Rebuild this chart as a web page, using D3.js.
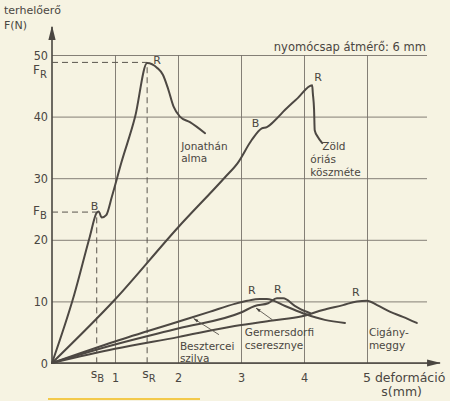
<!DOCTYPE html>
<html>
<head>
<meta charset="utf-8">
<script src="https://cdn.jsdelivr.net/npm/d3@7"></script>
<style>
  body { margin: 0; background: #f6f3e2; }
  svg { display: block; }
  text { font-family: "DejaVu Sans", sans-serif; fill: #4a4641; }
</style>
</head>
<body>
<div id="chart"></div>
<script>
// s (mm), F (N) pairs
var jonathan = [[0,0],[0.35,11],[0.6,20.5],[0.71,24.4],[0.74,24.6],[0.79,23.6],[0.86,24],[0.95,27],[1.1,32.5],[1.32,40],[1.51,48.7],[1.67,47.9],[1.76,46.8],[1.84,44.6],[1.93,41.6],[2.03,40],[2.19,39.1],[2.43,37.3]];
var koszmete = [[0,0],[1,10.3],[2,22],[2.75,30.2],[2.95,32.5],[3.17,36.2],[3.33,38.1],[3.41,38.3],[3.54,39.4],[3.7,41.1],[3.9,43],[4.13,45.1],[4.14,43.8],[4.16,41.1],[4.17,37.8],[4.22,36.7],[4.29,35.7]];
var szilva = [[0,0],[1,3.5],[2,6.7],[2.5,8.3],[2.9,9.6],[3.1,10.1],[3.3,10.4],[3.41,10.4],[3.7,9.25],[4.02,7.95],[4.33,7],[4.65,6.5]];
var cseresznye = [[0,0],[1,3],[2,5.6],[3,8.2],[3.22,9.25],[3.43,9.7],[3.57,10.5],[3.67,10.5],[3.86,9.25],[4.02,8.4],[4.1,8.1]];
var meggy = [[0,0],[1,2.3],[2,4.2],[2.9,6],[3.5,6.9],[3.97,7.6],[4.3,8.6],[4.62,9.4],[4.84,10],[5,10.1],[5.16,9.4],[5.37,8.3],[5.57,7.5],[5.79,6.5]];

var xTicks = [1, 2, 3, 4];
var yTicks = [0, 10, 20, 30, 40, 50];
var sB = 0.71, sR = 1.51, FB = 24.5, FR = 48.8;

var W = 450, H = 401;
var svg = d3.select("#chart").append("svg").attr("width", W).attr("height", H);
var x = d3.scaleLinear().domain([0, 6]).range([52, 430]);
var y = d3.scaleLinear().domain([0, 50]).range([363, 55]);
var ink = "#4a4641";

// grid
svg.append("g").attr("transform", "translate(" + x(0) + ",0)")
    .call(d3.axisLeft(y).tickValues(yTicks).tickSize(-(x(6) - 3 - x(0))).tickPadding(4))
    .call(function (g) {
        g.select(".domain").remove();
        g.selectAll("line").attr("stroke", "#77726a").attr("stroke-width", 0.9);
        g.selectAll("text").attr("font-size", 12.5).attr("fill", ink).style("font-family", "DejaVu Sans Condensed");
    });
svg.append("g").attr("transform", "translate(0," + y(0) + ")")
    .call(d3.axisTop(x).tickValues([1, 2, 3, 4, 5]).tickSize(y(0) - y(50)).tickFormat(""))
    .call(function (g) {
        g.select(".domain").remove();
        g.selectAll("line").attr("stroke", "#77726a").attr("stroke-width", 0.9);
    });
svg.append("g").attr("transform", "translate(0," + y(0) + ")")
    .call(d3.axisBottom(x).tickValues(xTicks).tickFormat(d3.format("d")).tickSize(0).tickPadding(10))
    .call(function (g) {
        g.select(".domain").remove();
        g.selectAll("text").attr("font-size", 12.5).attr("fill", ink).style("font-family", "DejaVu Sans Condensed");
    });

// axes with arrows
svg.append("defs").append("marker").attr("id", "arr").attr("viewBox", "0 0 10 10")
    .attr("refX", 9).attr("refY", 5).attr("markerWidth", 9).attr("markerHeight", 9).attr("orient", "auto")
    .append("path").attr("d", "M0,2.5L10,5L0,7.5Z").attr("fill", ink);
svg.append("defs").append("marker").attr("id", "sarr").attr("viewBox", "0 0 10 10")
    .attr("refX", 9).attr("refY", 5).attr("markerWidth", 6).attr("markerHeight", 6).attr("orient", "auto")
    .append("path").attr("d", "M0,2L10,5L0,8Z").attr("fill", ink);
svg.append("line").attr("x1", x(0)).attr("y1", y(0)).attr("x2", x(0)).attr("y2", 27)
    .attr("stroke", ink).attr("stroke-width", 1.6).attr("marker-end", "url(#arr)");
svg.append("line").attr("x1", x(0)).attr("y1", y(0)).attr("x2", 440).attr("y2", y(0))
    .attr("stroke", ink).attr("stroke-width", 1.6).attr("marker-end", "url(#arr)");

// dashed guides
var dash = svg.append("g").attr("stroke", "#5a554e").attr("stroke-width", 1).attr("stroke-dasharray", "6,4").attr("fill", "none");
dash.append("path").attr("d", "M" + x(0) + "," + y(FR) + "H" + x(sR) + "V" + y(0));
dash.append("path").attr("d", "M" + x(0) + "," + y(FB) + "H" + x(sB) + "V" + y(0));

// curves
var line = d3.line().x(function (d) { return x(d[0]); }).y(function (d) { return y(d[1]); }).curve(d3.curveMonotoneX);
[jonathan, koszmete, szilva, cseresznye, meggy].forEach(function (s) {
    svg.append("path").datum(s).attr("d", line).attr("fill", "none")
        .attr("stroke", "#4d4843").attr("stroke-width", 2).attr("stroke-linejoin", "round").attr("stroke-linecap", "round");
});

function label(t, xv, yv, opts) {
    opts = opts || {};
    return svg.append("text").attr("x", x(xv) + (opts.dx || 0)).attr("y", y(yv) + (opts.dy || 0))
        .attr("font-size", opts.size || 11).attr("text-anchor", opts.anchor || "start").text(t);
}
function sub(main, s, xv, yv, opts) {
    var t = label("", xv, yv, opts);
    t.append("tspan").text(main);
    t.append("tspan").attr("font-size", 10).attr("dy", 4).text(s);
}

// axis captions
svg.append("text").attr("x", 4).attr("y", 14).attr("font-size", 11).text("terhelőerő");
svg.append("text").attr("x", 4).attr("y", 29).attr("font-size", 11).text("F(N)");
svg.append("text").attr("x", 426).attr("y", 51).attr("font-size", 11.5).attr("text-anchor", "end").text("nyomócsap átmérő: 6 mm");
sub("F", "R", 0, FR, { dx: -19, dy: 12, size: 12 });
sub("F", "B", 0, FB, { dx: -19, dy: 3, size: 12 });
sub("s", "B", sB, 0, { dx: -6, dy: 15, size: 12.5 });
sub("s", "R", sR, 0, { dx: -5, dy: 15, size: 12.5 });
label("5 deformáció", 5, 0, { dx: -4, dy: 19, size: 12.5 });
label("s(mm)", 5.55, 0, { dy: 33, size: 12.5, anchor: "middle" });

// point marks
label("R", 1.51, 48.7, { dx: 6, dy: 1, size: 11 });
label("B", 0.71, 24.4, { dx: -6, dy: -3, size: 11 });
label("R", 4.13, 45.1, { dx: 2, dy: -4, size: 11 });
label("B", 3.33, 38.1, { dx: -10, dy: -1, size: 11 });
label("R", 3.3, 10.4, { dx: -12, dy: -5, size: 11 });
label("R", 3.62, 10.5, { dx: -6, dy: -5, size: 11 });
label("R", 4.97, 10.1, { dx: -13, dy: -5, size: 11 });

// curve names
label("Jonathán", 2.05, 34.6, { size: 10.5 });
label("alma", 2.05, 34.6, { dy: 12, size: 10.5 });
label("Zöld", 4.29, 34.6, { size: 10.5 });
label("óriás", 4.1, 34.6, { dy: 13, size: 10.5 });
label("köszméte", 4.1, 34.6, { dy: 26, size: 10.5 });
label("Besztercei", 2.03, 2.1, { size: 10.5 });
label("szilva", 2.03, 2.1, { dy: 12, size: 10.5 });
label("Germersdorfi", 3.06, 4.4, { size: 10.5 });
label("cseresznye", 3.06, 4.4, { dy: 13, size: 10.5 });
label("Cigány-", 5.03, 4.4, { size: 10.5 });
label("meggy", 5.03, 4.4, { dy: 13, size: 10.5 });

// leader arrows
var lead = svg.append("g").attr("stroke", "#5a554e").attr("stroke-width", 0.9);
lead.append("line").attr("x1", x(2.65)).attr("y1", y(4.6)).attr("x2", x(2.25)).attr("y2", y(7.2)).attr("marker-end", "url(#sarr)");
lead.append("line").attr("x1", x(3.5)).attr("y1", y(7)).attr("x2", x(3.24)).attr("y2", y(8.9)).attr("marker-end", "url(#sarr)");

// underline strip at the bottom of the scan
svg.append("line").attr("x1", 48).attr("x2", 200).attr("y1", 399).attr("y2", 399)
    .attr("stroke", "#f3c94a").attr("stroke-width", 2);
</script>
</body>
</html>
